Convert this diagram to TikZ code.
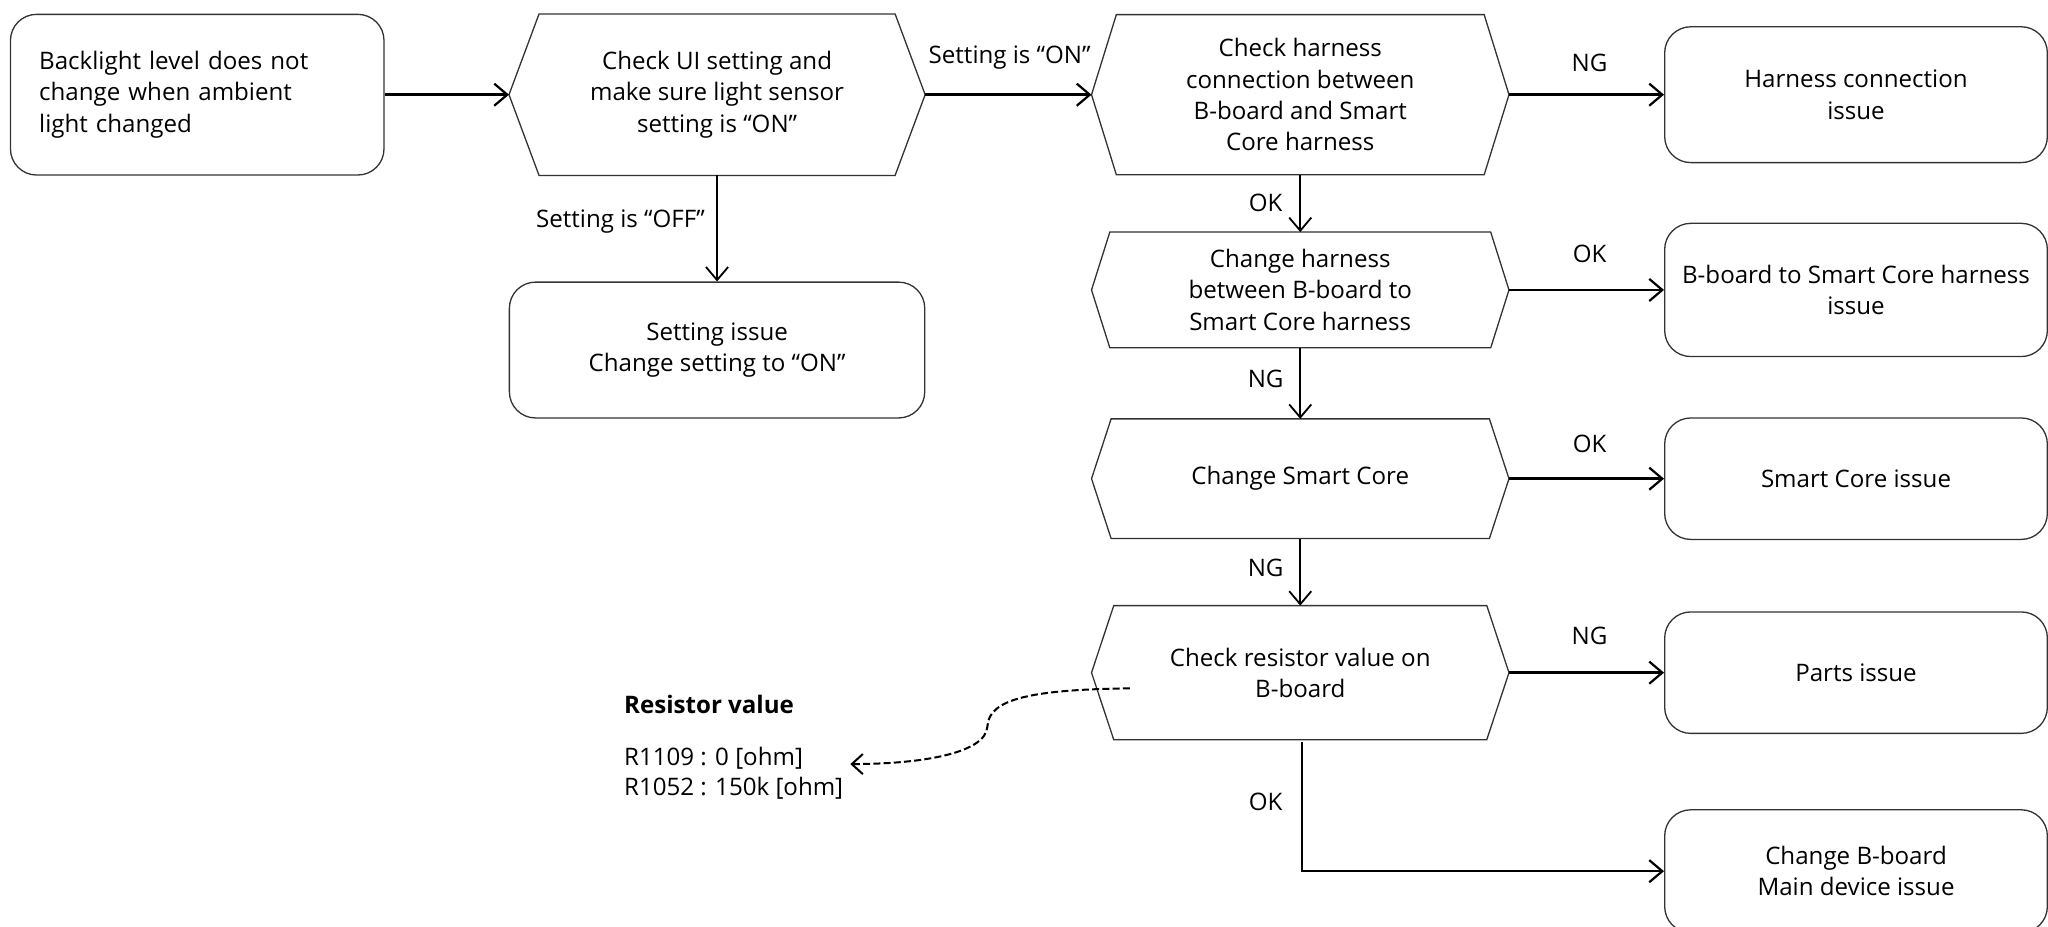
\documentclass[tikz,border=0pt]{standalone}
\usepackage{fontspec}
\setmainfont{Open Sans}
\usetikzlibrary{arrows.meta,calc}
\newcommand\myu{0.65pt}
\newcommand\myfs{\fontsize{12}{15.6}\selectfont}
\tikzset{
  boxline/.style={draw=black!80, line width=0.65pt},
  rbox/.style={boxline, rounded corners=13pt, align=center, inner sep=2pt, font=\myfs},
  hexnode/.style={align=center, inner sep=2pt, font=\myfs},
  hexline/.style={boxline},
  harrow/.style={line width=1.2pt, -{Straight Barb[length=6.5pt,width=11pt,line width=1.1pt]}},
  varrow/.style={line width=0.8pt, -{Straight Barb[length=6.5pt,width=11pt,line width=0.9pt]}},
  lbl/.style={font=\myfs, inner sep=1pt},
}
\newcommand\hexo[2]{\draw[hexline] (#1.west) -- ([xshift=#2*0.65pt]#1.north west) -- ([xshift=-#2*0.65pt]#1.north east) -- (#1.east) -- ([xshift=-#2*0.65pt]#1.south east) -- ([xshift=#2*0.65pt]#1.south west) -- cycle;}
\begin{document}
\begin{tikzpicture}[x=0.65pt,y=-0.65pt]
\useasboundingbox (0,0) rectangle (1568,709);
% left start box
\node[rbox, align=left, text width=242*\myu, inner xsep=22*\myu, minimum height=123*\myu] (b1) at (151,72.5)
  {Backlight level does not\\change when ambient\\light changed};
% hexagons
\node[hexnode, minimum width=318*\myu, minimum height=123*\myu] (h1) at (549,72.5)
  {Check UI setting and\\make sure light sensor\\setting is “ON”};
\hexo{h1}{23}
\node[rbox, minimum width=318*\myu, minimum height=104*\myu] (s1) at (549,268)
  {Setting issue\\Change setting to “ON”};
\node[hexnode, minimum width=319*\myu, minimum height=122*\myu] (h2) at (995.5,72.5)
  {Check harness\\connection between\\B-board and Smart\\Core harness};
\hexo{h2}{19}
\node[hexnode, minimum width=319*\myu, minimum height=88*\myu] (h3) at (995.5,222)
  {Change harness\\between B-board to\\Smart Core harness};
\hexo{h3}{14}
\node[hexnode, minimum width=319*\myu, minimum height=91*\myu] (h4) at (995.5,366.5)
  {Change Smart Core};
\hexo{h4}{15}
\node[hexnode, minimum width=319*\myu, minimum height=102*\myu] (h5) at (995.5,515)
  {Check resistor value on\\B-board};
\hexo{h5}{17}
% result boxes
\node[rbox, minimum width=293*\myu, minimum height=104*\myu] (r1) at (1421,72.5)
  {Harness connection\\issue};
\node[rbox, minimum width=293*\myu, minimum height=102*\myu] (r2) at (1421,222)
  {B-board to Smart Core harness\\issue};
\node[rbox, minimum width=293*\myu, minimum height=93*\myu] (r3) at (1421,366.5)
  {Smart Core issue};
\node[rbox, minimum width=293*\myu, minimum height=93*\myu] (r4) at (1421,515)
  {Parts issue};
\node[rbox, minimum width=293*\myu, minimum height=94*\myu] (r5) at (1421,667)
  {Change B-board\\Main device issue};
% resistor note
\node[lbl, anchor=west, font=\myfs\bfseries] (rvt) at (476,539) {Resistor value};
\node[lbl, anchor=west, align=left, font=\fontsize{12}{14.5}\selectfont] (rvl) at (476,592)
  {R1109 : 0 [ohm]\\R1052 : 150k [ohm]};
% connectors
\draw[harrow] (b1.east) -- (h1.west);
\draw[harrow] (h1.east) -- (h2.west);
\draw[varrow] (h1.south) -- (s1.north);
\draw[harrow] (h2.east) -- (r1.west);
\draw[varrow] (h2.south) -- (h3.north);
\draw[harrow] (h3.east) -- (r2.west);
\draw[varrow] (h3.south) -- (h4.north);
\draw[harrow] (h4.east) -- (r3.west);
\draw[varrow] (h4.south) -- (h5.north);
\draw[harrow] (h5.east) -- (r4.west);
\coordinate (okst) at ($(h5.south)+(1.5,2)$);
\draw[line width=0.8pt] (okst) |- ($(r5.west)+(-10,0)$);
\draw[harrow] ($(r5.west)+(-11,0)$) -- (r5.west);
% dashed note connector
\coordinate (ds) at (865,527);
\coordinate (de) at (651,585);
\draw[line width=1pt, dash pattern=on 3.5pt off 1.6pt, -{Straight Barb[length=5.5pt,width=10pt,line width=1pt]}]
  (ds) .. controls (790,528) and (757,535) .. (756,556)
       .. controls (755,578) and (700,585) .. (de);
% labels
\node[lbl] (l1) at (773,44) {Setting is “ON”};
\node[lbl] (l2) at (475,170) {Setting is “OFF”};
\node[lbl] (l3) at (1217,48) {NG};
\node[lbl] (l4) at (969,155) {OK};
\node[lbl] (l5) at (1217,194) {OK};
\node[lbl] (l6) at (969,290) {NG};
\node[lbl] (l7) at (1217,340) {OK};
\node[lbl] (l8) at (969,435) {NG};
\node[lbl] (l9) at (1217,487) {NG};
\node[lbl] (l10) at (969,614) {OK};
\end{tikzpicture}
\end{document}
